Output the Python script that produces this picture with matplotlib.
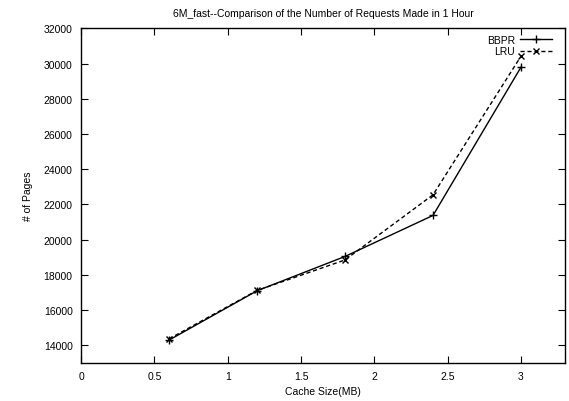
import matplotlib
matplotlib.use("Agg")
import matplotlib.pyplot as plt
from matplotlib.ticker import MultipleLocator

plt.rcParams['font.family'] = ['Liberation Sans', 'DejaVu Sans']

cache_mb = [0.6, 1.2, 1.8, 2.4, 3.0]
bbpr = [14300, 17100, 19050, 21380, 29800]
lru = [14370, 17120, 18850, 22550, 30420]

x_ticks = [0, 0.5, 1, 1.5, 2, 2.5, 3]
y_ticks = [14000, 16000, 18000, 20000, 22000, 24000, 26000, 28000, 30000, 32000]

fig = plt.figure(figsize=(5.69, 4.02), dpi=100)
ax = fig.add_axes([0.1424, 0.0945, 0.993 - 0.1424, 0.927 - 0.0945])

ax.plot(cache_mb, bbpr, color='black', lw=1.0, marker='+', ms=6, mew=1.0,
        label='BBPR')
ax.plot(cache_mb, lru, color='black', lw=1.0, ls=(0, (3, 2)), marker='x',
        ms=4.5, mew=1.0, label='LRU')

ax.set_xlim(0, 3.3)
ax.set_ylim(13000, 32000)
ax.set_xticks(x_ticks)
ax.set_xticklabels([f"{t:g}" for t in x_ticks])
ax.set_yticks(y_ticks)
ax.set_yticklabels([str(t) for t in y_ticks])
ax.xaxis.set_minor_locator(MultipleLocator(0.5))

ax.tick_params(direction='in', length=5, width=0.8, top=True, right=True,
               labelsize=7.5, pad=6)
for s in ax.spines.values():
    s.set_linewidth(1.0)

ax.set_title('6M_fast--Comparison of the Number of Requests Made in 1 Hour',
             fontsize=7.5, pad=9)
ax.set_xlabel('Cache Size(MB)', fontsize=7.5, labelpad=3)
ax.set_ylabel('# of Pages', fontsize=7.5, labelpad=8)

leg = ax.legend(loc='upper right', frameon=False, markerfirst=False,
                fontsize=7.5, handlelength=3.0, handletextpad=0.5,
                labelspacing=0.15, borderaxespad=0.2,
                bbox_to_anchor=(0.985, 1.0), numpoints=1)
for t in leg.get_texts():
    t.set_ha('right')

fig.savefig('out.png', dpi=100)
